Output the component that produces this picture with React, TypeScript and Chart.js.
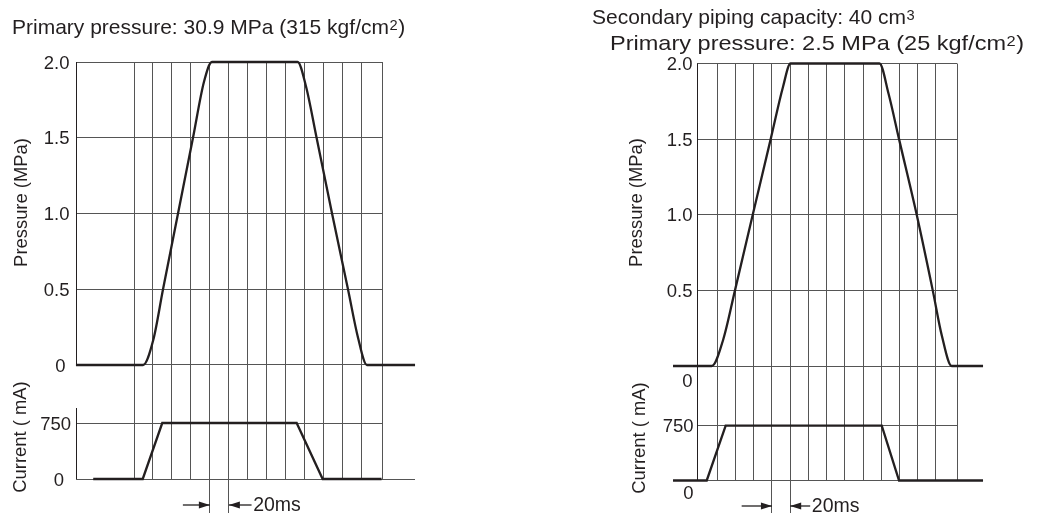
import React, { useEffect, useRef } from 'react';
import { Chart, registerables } from 'chart.js';

Chart.register(...registerables);

// ---------------- Data ----------------
const PRESSURE_TICKS = [0, 0.5, 1.0, 1.5, 2.0];
const PRESSURE_TICK_LABELS = ['0', '0.5', '1.0', '1.5', '2.0'];
const CURRENT_TICKS = [0, 750];
const CURRENT_TICK_LABELS = ['0', '750'];
const TIME_GRID_MS = [0, 20, 40, 60, 80, 100, 120, 140, 160, 180, 200, 220, 240];

const LEFT_TITLE_LINES = ['Primary pressure: 30.9 MPa (315 kgf/cm²)'];
const RIGHT_TITLE_LINES = ['Secondary piping capacity: 40 cm³', 'Primary pressure: 2.5 MPa (25 kgf/cm²)'];
const PRESSURE_AXIS_TITLE = 'Pressure (MPa)';
const CURRENT_AXIS_TITLE = 'Current ( mA)';
const SPAN_LABEL = '20ms';

// Left panel (time in ms, pressure in MPa, current in mA)
const LEFT_PRESSURE_MS = [-61.2, 9.5, 20.3, 30.6, 46.4, 62.2, 73.8, 82.2, 172.5, 181.3, 192.5, 208.8, 225.6, 236.2, 245.6, 296.3];
const LEFT_PRESSURE_MPA = [0, 0, 0.165, 0.5, 1.0, 1.5, 1.87, 2.0, 2.0, 1.84, 1.5, 1.0, 0.5, 0.18, 0, 0];
const LEFT_CURRENT_MS = [-43, 9.2, 29.8, 171.5, 198.9, 261];
const LEFT_CURRENT_MA = [0, 0, 750, 750, 0, 0];
const LEFT_SPAN_MS = [80, 100];

// Right panel
const RIGHT_PRESSURE_MS = [-48.6, -6.1, 6.6, 19.4, 38.9, 58.6, 72.1, 80.4, 178, 188, 199.5, 218.9, 236.5, 246.5, 257.3, 291.7];
const RIGHT_PRESSURE_MPA = [0, 0, 0.177, 0.5, 1.0, 1.5, 1.845, 2.0, 2.0, 1.8, 1.5, 1.0, 0.5, 0.2, 0, 0];
const RIGHT_CURRENT_MS = [-48.6, -11.6, 9.2, 180.5, 199.5, 291.7];
const RIGHT_CURRENT_MA = [0, 0, 750, 750, 0, 0];
const RIGHT_SPAN_MS = [60, 80];

// ---------------- Layout / style ----------------
const W = 1059;
const H = 513;
const INK = '#231f20';
const GRID = '#555555';
const FONT = '"Liberation Sans", Arial, Helvetica, sans-serif';
const SUPERSCRIPTS: Record<string, string> = { '²': '2', '³': '3' };

type Layout = {
  area: { left: number; right: number; top: number; bottom: number };
  xZeroPx: number;
  pxPerMs: number;
  pZeroPx: number;
  pFullPx: number;
  cZeroPx: number;
  cFullPx: number;
  axisPx: number;
  frameRightPx: number;
  axisSegments: number[][];
  pLabelRight: number;
  cLabelRight: number;
  pZeroLabel: { dx: number; dy: number };
  cZeroLabel: { dx: number; dy: number };
  pTitle: { x: number; cy: number };
  cTitle: { x: number; cy: number };
  titles: { x: number; y: number; sx: number }[];
  arrowY: number;
  arrowLeftLen: number;
  arrowRightLen: number;
  spanBaseline: number;
};

const LEFT_LAYOUT: Layout = {
  area: { left: 76, right: 415, top: 62, bottom: 479 },
  xZeroPx: 134,
  pxPerMs: 0.9485,
  pZeroPx: 365,
  pFullPx: 62,
  cZeroPx: 479,
  cFullPx: 423,
  axisPx: 76,
  frameRightPx: 382,
  axisSegments: [[62, 365], [408, 479]],
  pLabelRight: 69.5,
  cLabelRight: 71,
  pZeroLabel: { dx: -4, dy: 0 },
  cZeroLabel: { dx: -7, dy: 0 },
  pTitle: { x: 27, cy: 202.5 },
  cTitle: { x: 26, cy: 437 },
  titles: [{ x: 12, y: 34, sx: 1.0 }],
  arrowY: 505,
  arrowLeftLen: 27,
  arrowRightLen: 22.7,
  spanBaseline: 510.5,
};

const RIGHT_LAYOUT: Layout = {
  area: { left: 673, right: 983, top: 63.5, bottom: 480.5 },
  xZeroPx: 717.3,
  pxPerMs: 0.911,
  pZeroPx: 366,
  pFullPx: 63.5,
  cZeroPx: 480.5,
  cFullPx: 425.7,
  axisPx: 697,
  frameRightPx: 957,
  axisSegments: [[63.5, 480.5]],
  pLabelRight: 692.5,
  cLabelRight: 693.5,
  pZeroLabel: { dx: 0, dy: 14 },
  cZeroLabel: { dx: 0, dy: 12 },
  pTitle: { x: 641.5, cy: 202.5 },
  cTitle: { x: 645, cy: 438 },
  titles: [
    { x: 592, y: 24, sx: 1.0 },
    { x: 610, y: 50, sx: 1.12 },
  ],
  arrowY: 506,
  arrowLeftLen: 30.3,
  arrowRightLen: 20,
  spanBaseline: 511.5,
};

const crisp = (v: number) => Math.round(v - 0.5) + 0.5;

// draw text where superscript characters are rendered as small raised digits
function drawRichText(ctx: CanvasRenderingContext2D, text: string, size: number) {
  let x = 0;
  let run = '';
  const flush = () => {
    if (!run) return;
    ctx.font = `${size}px ${FONT}`;
    ctx.fillText(run, x, 0);
    x += ctx.measureText(run).width;
    run = '';
  };
  for (const ch of text) {
    if (SUPERSCRIPTS[ch]) {
      flush();
      const s = size * 0.7;
      ctx.font = `${s}px ${FONT}`;
      ctx.fillText(SUPERSCRIPTS[ch], x + 0.5, -size * 0.2);
      x += ctx.measureText(SUPERSCRIPTS[ch]).width + 1;
    } else {
      run += ch;
    }
  }
  flush();
}

function makePlugin(L: Layout, titles: string[], spanMs: number[]) {
  const seg = (ctx: CanvasRenderingContext2D, x1: number, y1: number, x2: number, y2: number) => {
    ctx.beginPath();
    ctx.moveTo(x1, y1);
    ctx.lineTo(x2, y2);
    ctx.stroke();
  };
  return {
    id: 'panelDecor',
    beforeDatasetsDraw(chart: any) {
      const ctx: CanvasRenderingContext2D = chart.ctx;
      const xs = chart.scales.x;
      const yP = chart.scales.yP;
      const yC = chart.scales.yC;
      const { left, right } = chart.chartArea;
      const topY = yP.getPixelForValue(PRESSURE_TICKS[PRESSURE_TICKS.length - 1]);
      const botY = yC.getPixelForValue(CURRENT_TICKS[0]);
      ctx.save();
      ctx.lineWidth = 1;
      ctx.strokeStyle = GRID;
      for (const t of TIME_GRID_MS) {
        const px = crisp(xs.getPixelForValue(t));
        const ext = spanMs.includes(t);
        seg(ctx, px, topY, px, ext ? chart.height : botY);
      }
      seg(ctx, crisp(L.frameRightPx), topY, crisp(L.frameRightPx), botY);
      for (const v of PRESSURE_TICKS) {
        const py = crisp(yP.getPixelForValue(v));
        if (v === 0) seg(ctx, left, py, right, py);
        else seg(ctx, L.axisPx, py, L.frameRightPx, py);
      }
      for (const v of CURRENT_TICKS) {
        const py = crisp(yC.getPixelForValue(v));
        if (v === 0) seg(ctx, left, py, right, py);
        else seg(ctx, L.axisPx, py, L.frameRightPx, py);
      }
      ctx.strokeStyle = INK;
      for (const [a, b] of L.axisSegments) seg(ctx, crisp(L.axisPx), a, crisp(L.axisPx), b);
      ctx.restore();
    },
    afterDatasetsDraw(chart: any) {
      const ctx: CanvasRenderingContext2D = chart.ctx;
      const xs = chart.scales.x;
      const yP = chart.scales.yP;
      const yC = chart.scales.yC;
      ctx.save();
      ctx.fillStyle = INK;
      ctx.strokeStyle = INK;

      // titles
      ctx.textAlign = 'left';
      ctx.textBaseline = 'alphabetic';
      titles.forEach((t, i) => {
        const p = L.titles[i];
        ctx.save();
        ctx.translate(p.x, p.y);
        ctx.scale(p.sx, 1);
        drawRichText(ctx, t, 21);
        ctx.restore();
      });

      // tick labels
      const tickSize = 18.5;
      ctx.font = `${tickSize}px ${FONT}`;
      ctx.textAlign = 'right';
      const half = tickSize * 0.358;
      PRESSURE_TICKS.forEach((v, i) => {
        const off = v === 0 ? L.pZeroLabel : { dx: 0, dy: 0 };
        ctx.fillText(PRESSURE_TICK_LABELS[i], L.pLabelRight + off.dx, yP.getPixelForValue(v) + half + off.dy);
      });
      CURRENT_TICKS.forEach((v, i) => {
        const off = v === 0 ? L.cZeroLabel : { dx: 0, dy: 0 };
        ctx.fillText(CURRENT_TICK_LABELS[i], L.cLabelRight + off.dx, yC.getPixelForValue(v) + half + off.dy);
      });

      // axis titles (rotated)
      ctx.font = `18.4px ${FONT}`;
      ctx.textAlign = 'center';
      const rot = (text: string, x: number, cy: number) => {
        ctx.save();
        ctx.translate(x, cy);
        ctx.rotate(-Math.PI / 2);
        ctx.fillText(text, 0, 0);
        ctx.restore();
      };
      rot(PRESSURE_AXIS_TITLE, L.pTitle.x, L.pTitle.cy);
      rot(CURRENT_AXIS_TITLE, L.cTitle.x, L.cTitle.cy);

      // 20 ms span marker
      const a = xs.getPixelForValue(spanMs[0]);
      const b = xs.getPixelForValue(spanMs[1]);
      const y = L.arrowY;
      const arrow = (tip: number, tail: number) => {
        ctx.lineWidth = 1.3;
        seg(ctx, tail, y, tip, y);
        const dir = Math.sign(tip - tail);
        ctx.beginPath();
        ctx.moveTo(tip, y);
        ctx.lineTo(tip - dir * 11, y - 3.6);
        ctx.lineTo(tip - dir * 11, y + 3.6);
        ctx.closePath();
        ctx.fill();
      };
      arrow(a, a - L.arrowLeftLen);
      arrow(b, b + L.arrowRightLen);
      ctx.font = `19.5px ${FONT}`;
      ctx.textAlign = 'left';
      ctx.fillText(SPAN_LABEL, b + L.arrowRightLen + 1.6, L.spanBaseline);
      ctx.restore();
    },
  };
}

function buildConfig(L: Layout, pT: number[], pV: number[], cT: number[], cV: number[], titles: string[], spanMs: number[]) {
  const pMax = PRESSURE_TICKS[PRESSURE_TICKS.length - 1];
  const cMax = CURRENT_TICKS[CURRENT_TICKS.length - 1];
  const pxPerMPa = (L.pZeroPx - L.pFullPx) / pMax;
  const pxPerMA = (L.cZeroPx - L.cFullPx) / cMax;
  return {
    type: 'line' as const,
    data: {
      datasets: [
        {
          data: pT.map((t, i) => ({ x: t, y: pV[i] })),
          xAxisID: 'x',
          yAxisID: 'yP',
          borderColor: INK,
          borderWidth: 2.3,
          pointRadius: 0,
          fill: false,
          cubicInterpolationMode: 'monotone' as const,
          clip: false as any,
          borderJoinStyle: 'round' as const,
        },
        {
          data: cT.map((t, i) => ({ x: t, y: cV[i] })),
          xAxisID: 'x',
          yAxisID: 'yC',
          borderColor: INK,
          borderWidth: 2.3,
          pointRadius: 0,
          fill: false,
          tension: 0,
          clip: false as any,
        },
      ],
    },
    options: {
      animation: false as const,
      responsive: false,
      maintainAspectRatio: false,
      events: [],
      layout: {
        padding: { left: L.area.left, right: W - L.area.right, top: L.area.top, bottom: H - L.area.bottom },
      },
      scales: {
        x: {
          type: 'linear' as const,
          display: false,
          min: (L.area.left - L.xZeroPx) / L.pxPerMs,
          max: (L.area.right - L.xZeroPx) / L.pxPerMs,
        },
        yP: {
          type: 'linear' as const,
          display: false,
          min: -(L.area.bottom - L.pZeroPx) / pxPerMPa,
          max: (L.pZeroPx - L.area.top) / pxPerMPa,
        },
        yC: {
          type: 'linear' as const,
          display: false,
          min: -(L.area.bottom - L.cZeroPx) / pxPerMA,
          max: (L.cZeroPx - L.area.top) / pxPerMA,
        },
      },
      plugins: {
        legend: { display: false },
        tooltip: { enabled: false },
        title: { display: false },
      },
    },
    plugins: [makePlugin(L, titles, spanMs)],
  };
}

function PanelCanvas(props: { cfg: any }) {
  const ref = useRef<HTMLCanvasElement | null>(null);
  useEffect(() => {
    if (!ref.current) return;
    const chart = new Chart(ref.current, props.cfg);
    return () => chart.destroy();
  }, []);
  return (
    <canvas
      ref={ref}
      width={W}
      height={H}
      style={{ position: 'absolute', left: 0, top: 0, width: W, height: H }}
    />
  );
}

export default function App() {
  const leftCfg = buildConfig(LEFT_LAYOUT, LEFT_PRESSURE_MS, LEFT_PRESSURE_MPA, LEFT_CURRENT_MS, LEFT_CURRENT_MA, LEFT_TITLE_LINES, LEFT_SPAN_MS);
  const rightCfg = buildConfig(RIGHT_LAYOUT, RIGHT_PRESSURE_MS, RIGHT_PRESSURE_MPA, RIGHT_CURRENT_MS, RIGHT_CURRENT_MA, RIGHT_TITLE_LINES, RIGHT_SPAN_MS);
  return (
    <div style={{ position: 'absolute', left: 0, top: 0, width: W, height: H, background: '#ffffff', overflow: 'hidden' }}>
      <PanelCanvas cfg={leftCfg} />
      <PanelCanvas cfg={rightCfg} />
    </div>
  );
}
